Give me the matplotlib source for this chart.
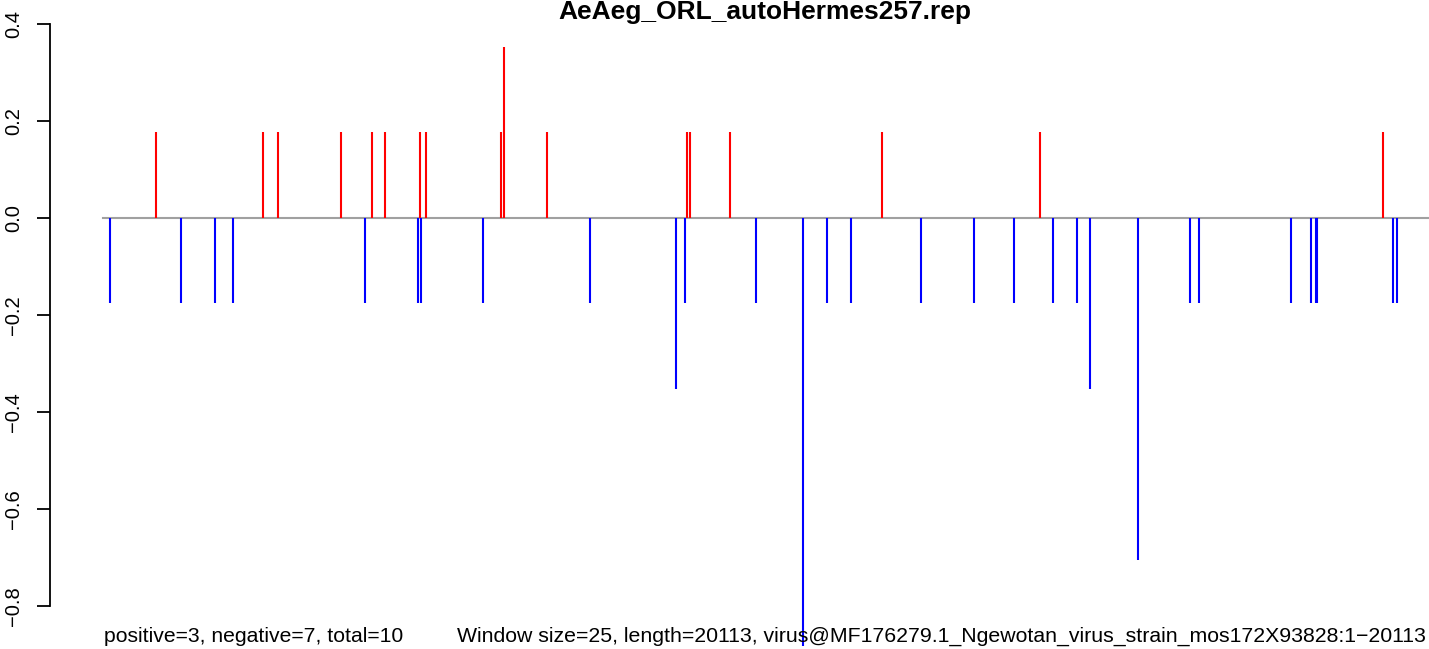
import matplotlib
matplotlib.use("Agg")
import matplotlib.pyplot as plt

plt.rcParams['font.family'] = ['Liberation Sans', 'DejaVu Sans']

# posições (pb) e valores das janelas
pos_x = [805, 2429, 2657, 3613, 4083, 4281, 4812, 4903, 6042, 6087, 6740,
         8865, 8911, 9518, 11825, 14224, 19430]
pos_y = [0.1765, 0.1765, 0.1765, 0.1765, 0.1765, 0.1765, 0.1765, 0.1765,
         0.1765, 0.353, 0.1765, 0.1765, 0.1765, 0.1765, 0.1765, 0.1765, 0.1765]

neg_x = [106, 1184, 1700, 1973, 3977, 4782, 4827, 5768, 7393, 8698, 8835,
         9913, 10626, 10990, 11355, 12417, 13222, 13829, 14421, 14785, 14983,
         15711, 16501, 16637, 18034, 18337, 18413, 18428, 19582, 19643]
neg_y = [-0.1765, -0.1765, -0.1765, -0.1765, -0.1765, -0.1765, -0.1765, -0.1765,
         -0.1765, -0.353, -0.1765, -0.1765, -0.8825, -0.1765, -0.1765, -0.1765,
         -0.1765, -0.1765, -0.1765, -0.1765, -0.353, -0.706, -0.1765, -0.1765,
         -0.1765, -0.1765, -0.1765, -0.1765, -0.1765, -0.1765]

comprimento = 20113
titulo = "AeAeg_ORL_autoHermes257.rep"
resumo = "positive=3, negative=7, total=10"
info = "Window size=25, length=20113, virus@MF176279.1_Ngewotan_virus_strain_mos172X93828:1\u221220113"

W, H = 1429, 649
fig = plt.figure(figsize=(W / 100, H / 100), dpi=100)
ax = fig.add_axes([50 / W, 0, 1 - 50 / W, 1])

ax.plot([0, comprimento], [0, 0], color="#a0a0a0", lw=1.5, zorder=1)
ax.vlines(pos_x, 0, pos_y, color="red", lw=1.5, zorder=2)
ax.vlines(neg_x, 0, neg_y, color="blue", lw=1.5, zorder=2)

ax.set_xlim(-805, 20128)
ax.set_ylim(-0.889, 0.449)

for s in ["top", "right", "bottom"]:
    ax.spines[s].set_visible(False)
ax.spines["left"].set_bounds(-0.8, 0.4)
ax.spines["left"].set_linewidth(1.3)
ax.set_xticks([])
ax.set_yticks([-0.8, -0.6, -0.4, -0.2, 0.0, 0.2, 0.4])
ax.set_yticklabels(["\u22120.8", "\u22120.6", "\u22120.4", "\u22120.2", "0.0", "0.2", "0.4"],
                   rotation=90, va="center", fontsize=14.5)
ax.tick_params(axis="y", length=9.5, width=1.3, pad=10)

fig.text(765 / W, 1 - 12 / H, titulo, ha="center", va="center",
         fontsize=19, fontweight="bold")
fig.text(104 / W, 1 - 636 / H, resumo, ha="left", va="center", fontsize=15.2)
fig.text(457 / W, 1 - 636 / H, info, ha="left", va="center", fontsize=15.35)

fig.savefig("out.png", dpi=100)
